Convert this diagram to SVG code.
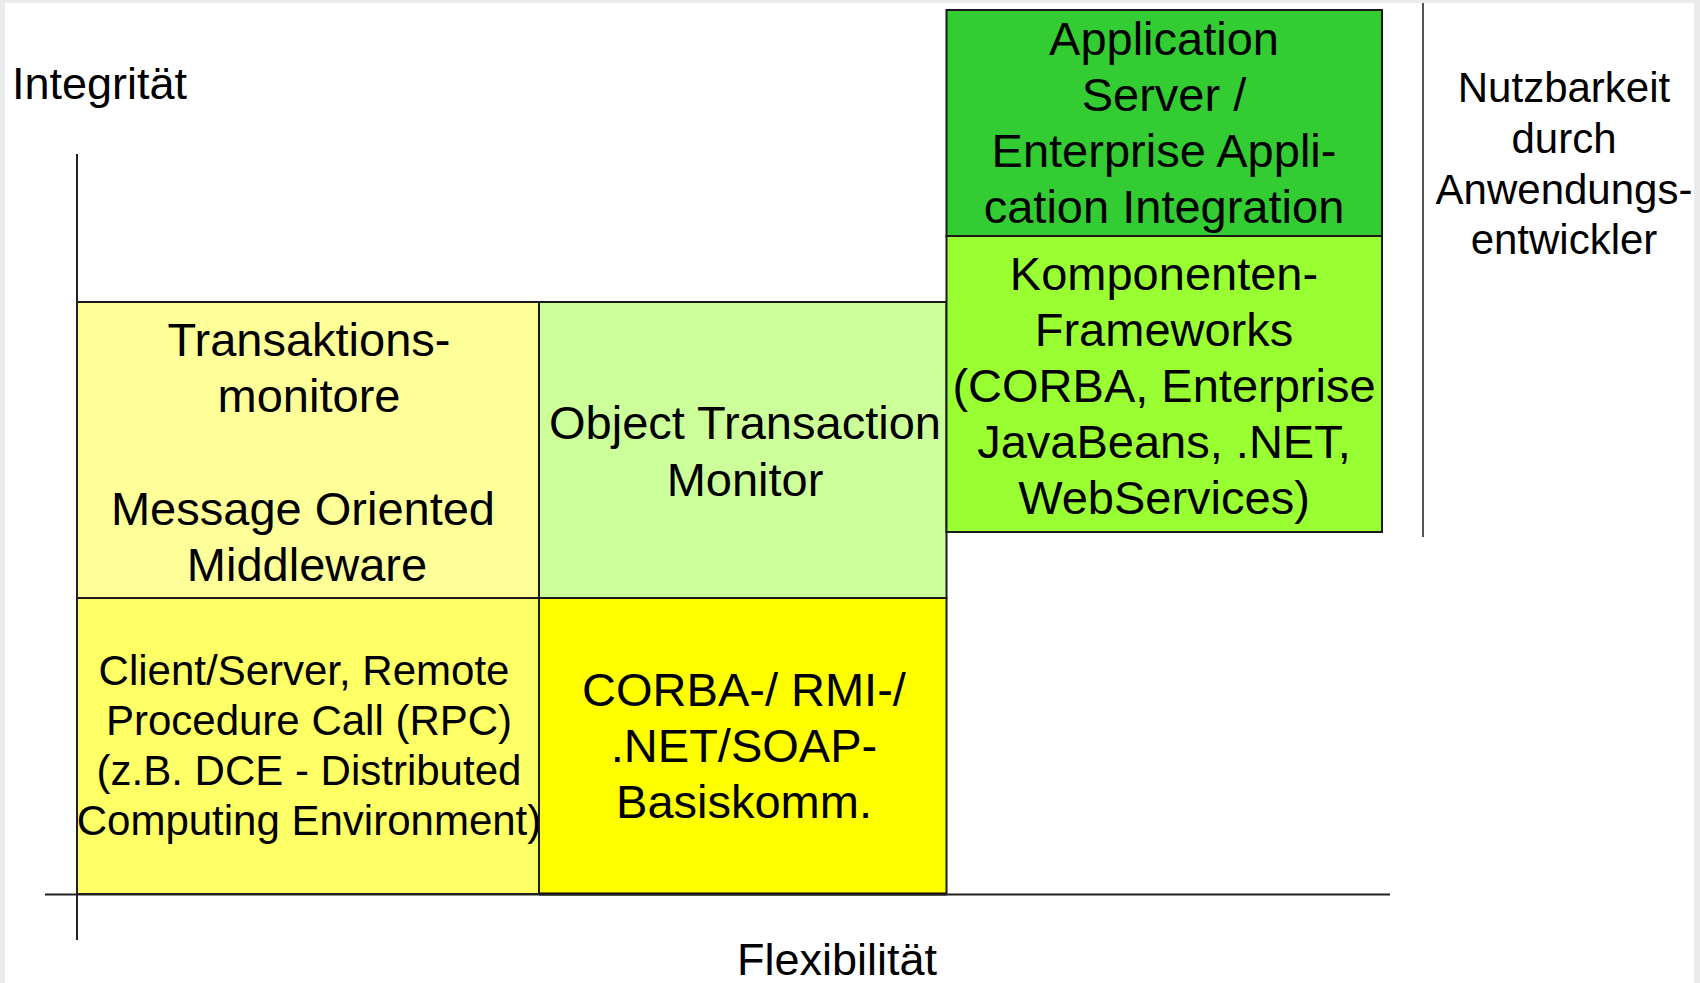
<svg xmlns="http://www.w3.org/2000/svg" width="1700" height="983" viewBox="0 0 1700 983">
  <style>
    .box { stroke: #1a1a1a; stroke-width: 2; }
    .axis { stroke: #222; stroke-width: 2; fill: none; }
    text { font-family: "Liberation Sans", Arial, sans-serif; fill: #000; text-anchor: middle; }
    .big { font-size: 47px; }
    .mid { font-size: 42px; }
    .lbl { font-size: 45px; }
  </style>

  <!-- page background with light frame -->
  <rect x="0" y="0" width="1700" height="983" fill="#ffffff"/>
  <rect x="0" y="0" width="1700" height="3" fill="#ebebeb"/>
  <rect x="0" y="0" width="5" height="983" fill="#ebebeb"/>
  <rect x="1694" y="0" width="6" height="983" fill="#ebebeb"/>

  <!-- bottom left: base communication -->
  <g id="rpc">
    <rect class="box" x="77" y="598" width="462" height="296" fill="#ffff66"/>
    <text class="mid" x="304" y="685">Client/Server, Remote</text>
    <text class="mid" x="309" y="735">Procedure Call (RPC)</text>
    <text class="mid" x="309" y="785">(z.B. DCE - Distributed</text>
    <text class="mid" x="309" y="835">Computing Environment)</text>
  </g>

  <!-- bottom middle: object based communication -->
  <g id="basiskomm">
    <rect class="box" x="539" y="598" width="407.5" height="296" fill="#ffff00"/>
    <line x1="539" y1="894" x2="946.5" y2="894" stroke="#000" stroke-width="3"/>
    <text class="big" x="744" y="706">CORBA-/ RMI-/</text>
    <text class="big" x="744" y="762">.NET/SOAP-</text>
    <text class="big" x="744" y="818">Basiskomm.</text>
  </g>

  <!-- top left: TP monitors and MOM -->
  <g id="tpmon">
    <rect class="box" x="77" y="302" width="462" height="296" fill="#ffff99"/>
    <text class="big" x="309" y="356">Transaktions-</text>
    <text class="big" x="309" y="412">monitore</text>
    <text class="big" x="303" y="525">Message Oriented</text>
    <text class="big" x="307" y="581">Middleware</text>
  </g>

  <!-- top middle: OTM -->
  <g id="otm">
    <rect class="box" x="539" y="302" width="407.5" height="296" fill="#ccff99"/>
    <text class="big" x="745" y="439">Object Transaction</text>
    <text class="big" x="745" y="496">Monitor</text>
  </g>

  <!-- component frameworks -->
  <g id="frameworks">
    <rect class="box" x="946.5" y="236" width="435.5" height="296" fill="#99ff33"/>
    <text class="big" x="1164" y="290">Komponenten-</text>
    <text class="big" x="1164" y="346">Frameworks</text>
    <text class="big" x="1164" y="402">(CORBA, Enterprise</text>
    <text class="big" x="1164" y="458">JavaBeans, .NET,</text>
    <text class="big" x="1164" y="514">WebServices)</text>
  </g>

  <!-- application server / EAI -->
  <g id="appserver">
    <rect class="box" x="946.5" y="10" width="435.5" height="226" fill="#33cc33"/>
    <text class="big" x="1164" y="55">Application</text>
    <text class="big" x="1164" y="111">Server /</text>
    <text class="big" x="1164" y="167">Enterprise Appli-</text>
    <text class="big" x="1164" y="223">cation Integration</text>
  </g>

  <!-- axes and separator -->
  <g id="connectors">
    <line class="axis" x1="77" y1="154" x2="77" y2="940"/>
    <line class="axis" x1="45" y1="894.5" x2="1390" y2="894.5"/>
    <line x1="1423" y1="3" x2="1423" y2="537" stroke="#555" stroke-width="2"/>
  </g>

  <!-- axis captions -->
  <g id="labels">
    <text class="lbl" x="12" y="99" style="text-anchor:start">Integrität</text>
    <text class="lbl" x="837" y="975">Flexibilität</text>
    <text class="mid" x="1564" y="102">Nutzbarkeit</text>
    <text class="mid" x="1564" y="153">durch</text>
    <text class="mid" x="1564" y="204">Anwendungs-</text>
    <text class="mid" x="1564" y="254">entwickler</text>
  </g>
</svg>
